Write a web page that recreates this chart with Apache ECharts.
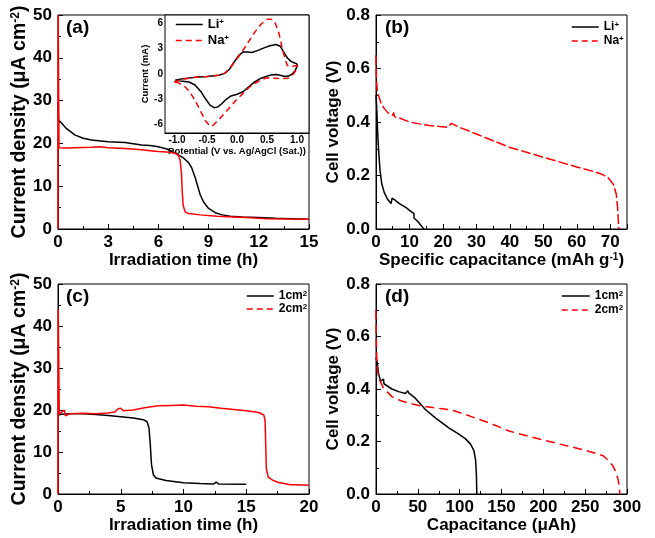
<!DOCTYPE html>
<html>
<head>
<meta charset="utf-8">
<script src="https://cdn.jsdelivr.net/npm/echarts@6/dist/echarts.min.js"></script>
<style>html,body{margin:0;padding:0;background:#fff}#c{width:655px;height:538px}</style>
</head>
<body>
<div id="c"></div>
<script>
// ---- data (a): current density vs irradiation time ----
const aLi = [[0,29.5],[0.03,25.5],[0.5,23.5],[1,22],[1.5,21.2],[2,20.8],[3,20.4],[4,20.2],[4.5,19.9],[5,19.6],[5.5,19.5],[6,19.2],[6.5,18.7],[7,17.8],[7.5,16.6],[7.8,15.5],[8.0,14.2],[8.2,12],[8.35,10],[8.5,8],[8.7,6.3],[9,4.8],[9.4,3.8],[9.8,3.3],[10.3,3.0],[11,2.8],[12,2.7],[13,2.5],[14,2.4],[15,2.3]];
const aNa = [[0,0],[0.01,50],[0.06,19],[0.5,18.9],[1,19],[2,19.1],[2.5,19.2],[3,19],[4,18.8],[5,18.5],[5.5,18.3],[6,18.1],[6.5,18],[7,17.7],[7.2,17.2],[7.3,16],[7.38,13],[7.42,9],[7.48,5.5],[7.6,4],[7.8,3.6],[8.5,3.3],[9.5,3.0],[10.5,2.8],[11.5,2.6],[12.5,2.4],[13.5,2.35],[15,2.3]];
// ---- inset: cyclic voltammetry ----
const cvLi = [[-1.03,-0.75],[-0.9,-0.55],[-0.7,-0.4],[-0.5,-0.3],[-0.3,-0.15],[-0.2,0.1],[-0.12,0.6],[-0.05,1.4],[0.03,2.2],[0.1,2.6],[0.18,2.6],[0.25,2.55],[0.35,2.8],[0.45,3.1],[0.55,3.35],[0.65,3.5],[0.72,3.3],[0.78,2.6],[0.84,1.9],[0.9,1.5],[0.96,1.3],[1.0,1.2],[1.0,0.9],[0.97,0.4],[0.92,0.0],[0.86,-0.25],[0.8,-0.3],[0.72,-0.15],[0.65,-0.05],[0.58,-0.1],[0.5,-0.25],[0.4,-0.5],[0.3,-0.9],[0.2,-1.5],[0.1,-2.1],[0.0,-2.4],[-0.1,-2.6],[-0.18,-3.0],[-0.25,-3.5],[-0.32,-3.9],[-0.38,-4.0],[-0.45,-3.7],[-0.52,-3.0],[-0.6,-2.1],[-0.7,-1.3],[-0.8,-0.95],[-0.9,-0.85],[-1.03,-0.75]];
const cvNa = [[-1.05,-0.95],[-0.9,-0.6],[-0.7,-0.4],[-0.5,-0.3],[-0.3,-0.15],[-0.2,0.1],[-0.1,0.9],[0.0,1.8],[0.1,2.8],[0.2,3.9],[0.3,5.0],[0.4,5.9],[0.5,6.5],[0.58,6.5],[0.64,6.0],[0.7,4.8],[0.75,3.2],[0.8,1.8],[0.84,1.0],[0.9,0.9],[1.0,1.0],[1.0,0.6],[0.95,0.1],[0.9,-0.3],[0.85,-0.5],[0.75,-0.55],[0.6,-0.5],[0.5,-0.45],[0.4,-0.7],[0.3,-1.1],[0.2,-1.6],[0.1,-2.3],[0.0,-3.0],[-0.1,-3.8],[-0.2,-4.6],[-0.3,-5.4],[-0.4,-6.1],[-0.45,-6.2],[-0.52,-5.6],[-0.6,-4.5],[-0.7,-3.1],[-0.8,-2.0],[-0.9,-1.3],[-1.0,-1.0],[-1.05,-0.95]];
// ---- data (b): cell voltage vs specific capacitance ----
const bLi = [[0,0.5],[0.2,0.46],[0.5,0.36],[0.8,0.29],[1.2,0.22],[1.7,0.17],[2.5,0.135],[3.5,0.11],[4.5,0.095],[4.8,0.115],[5.5,0.11],[7,0.095],[9,0.08],[10.5,0.065],[11.3,0.058],[11.4,0.04],[12.5,0.028],[14.3,0]];
const bNa = [[0,0.65],[0.15,0.56],[0.4,0.51],[1,0.49],[1.5,0.47],[2.5,0.45],[3.5,0.435],[5,0.425],[5.3,0.435],[5.5,0.42],[7,0.415],[10,0.40],[13,0.393],[16,0.387],[19,0.383],[21.5,0.38],[22,0.376],[22.5,0.395],[23,0.392],[25,0.38],[30,0.355],[35,0.33],[40,0.305],[45,0.287],[50,0.268],[55,0.25],[60,0.232],[65,0.215],[67.5,0.205],[69.5,0.19],[71,0.165],[71.8,0.13],[72.2,0.08],[72.4,0.03],[72.5,0]];
// ---- data (c): current density vs time, electrode area ----
const c1 = [[0,18.8],[0.3,19],[1,19.1],[2,19.1],[3,18.9],[4,18.7],[5,18.4],[6,18.1],[6.8,17.7],[7.1,17.2],[7.25,15.7],[7.35,12],[7.45,7],[7.6,4.6],[7.8,3.8],[8.6,3.2],[10,2.7],[11.3,2.5],[12.4,2.4],[12.6,2.8],[12.8,2.4],[15,2.3]];
const c2 = [[0,0],[0.02,44],[0.1,19],[0.3,19.5],[0.5,20],[0.6,18.6],[0.9,19.1],[2,19.2],[3,19.1],[4,19.3],[4.5,19.5],[4.8,20.3],[5.0,20.4],[5.2,19.8],[6,20],[7,20.6],[8,21],[9,21.1],[10,21.2],[11,20.9],[12,20.8],[13,20.4],[14,20.1],[15,19.8],[16,19.4],[16.4,18.8],[16.5,17.5],[16.55,12],[16.6,6],[16.75,4],[17.1,3.3],[17.5,2.8],[18,2.5],[18.5,2.2],[19,2.2],[20,2.1]];
// ---- data (d): cell voltage vs capacitance ----
const d1 = [[0,0.52],[1.2,0.505],[3.2,0.455],[5.5,0.43],[7,0.425],[9,0.438],[9.5,0.42],[11,0.416],[19,0.40],[27,0.39],[35,0.383],[37,0.378],[38,0.393],[39,0.385],[47,0.365],[59,0.322],[71,0.29],[87,0.252],[99,0.228],[107,0.21],[113,0.19],[117,0.165],[119,0.13],[120,0.075],[120.5,0]];
const d2 = [[0,0.7],[0.5,0.58],[1.2,0.49],[3,0.445],[5,0.43],[9,0.403],[19,0.371],[30,0.355],[39,0.346],[50,0.338],[59,0.333],[70,0.328],[79,0.325],[90,0.32],[95,0.315],[105,0.305],[119,0.289],[140,0.265],[159,0.24],[180,0.222],[198,0.207],[220,0.19],[238,0.176],[255,0.162],[266,0.152],[272,0.145],[278,0.127],[283,0.108],[286,0.088],[289,0.06],[290.5,0.035],[291.5,0]];
// ---- tick labels ----
const cvTicksX = [-1, -0.5, 0, 0.5, 1];
const cvTicksY = [-6, -3, 0, 3, 6];
const panelLabels = ['(a)', '(b)', '(c)', '(d)'];

const FF = '"Liberation Sans", Arial, sans-serif';
const BLACK = '#000000', RED = '#ff0000';

function axis(idx, min, max, interval, name, nameGap, isY, fmt, nameSize) {
  const ns = nameSize || 17;
  return {
    type: 'value', gridIndex: idx, min: min, max: max, interval: interval,
    name: name, nameLocation: 'middle', nameGap: nameGap,
    nameTextStyle: {fontSize: ns, fontWeight: 'bold', color: BLACK, fontFamily: FF,
      rich: {sup: {fontSize: Math.round(ns * 0.6), fontWeight: 'bold', fontFamily: FF, color: BLACK, verticalAlign: 'top'}}},
    axisLine: {show: true, onZero: false, lineStyle: {color: BLACK, width: 1}},
    axisTick: {show: true, inside: true, length: 5, lineStyle: {color: BLACK, width: 1}},
    minorTick: {show: true, splitNumber: 2, length: 3, lineStyle: {color: BLACK, width: 1}},
    splitLine: {show: false}, minorSplitLine: {show: false},
    axisLabel: {fontSize: 17, fontWeight: 'bold', color: BLACK, fontFamily: FF, margin: isY ? 6 : 5,
      showMaxLabel: true, formatter: fmt || null}
  };
}
const f1 = v => v.toFixed(1);

const xB = axis(2, 0, 75, 10, 'Specific capacitance (mAh g{sup|-1})', 20, false);
xB.axisLabel.showMaxLabel = false;

function insetAxis(isY) {
  return {
    type: 'value', gridIndex: 1,
    min: isY ? -7 : -1.2, max: isY ? 7 : 1.2,
    name: isY ? 'Current (mA)' : 'Potential (V vs. Ag/AgCl (Sat.))',
    nameLocation: 'middle', nameGap: isY ? 10 : 8,
    nameTextStyle: {fontSize: 9.5, fontWeight: 'bold', color: BLACK, fontFamily: FF},
    axisLine: {show: true, onZero: false, lineStyle: {color: BLACK, width: 1}},
    axisTick: {show: true, inside: true, length: 3, customValues: isY ? cvTicksY : cvTicksX, lineStyle: {color: BLACK}},
    splitLine: {show: false},
    axisLabel: {fontSize: 10, fontWeight: 'bold', color: BLACK, fontFamily: FF, margin: 2,
      customValues: isY ? cvTicksY : cvTicksX,
      formatter: isY ? (v => String(v)) : f1}
  };
}

function legend(left, top, width, gap, fs, names, dashedSecond) {
  return {
    orient: 'vertical', left: left, top: top, padding: 0,
    itemWidth: width, itemHeight: 14, itemGap: gap,
    itemStyle: {opacity: 0},
    data: [
      {name: names[0], itemStyle: {opacity: 0}, lineStyle: {type: 'solid', color: BLACK, width: 1.5}},
      {name: names[1], itemStyle: {opacity: 0}, lineStyle: {type: dashedSecond, color: RED, width: 1.5}}
    ],
    textStyle: {fontSize: fs, fontWeight: 'bold', color: BLACK, fontFamily: FF,
      rich: {sup: {fontSize: Math.round(fs * 0.65), fontWeight: 'bold', color: BLACK, fontFamily: FF, verticalAlign: 'top'}}},
    formatter: n => n.replace('+', '{sup|+}').replace('cm2', 'cm{sup|2}')
  };
}

function line(name, xi, data, color, type) {
  return {
    type: 'line', name: name, xAxisIndex: xi, yAxisIndex: xi, data: data,
    showSymbol: false, symbol: 'none', smooth: false,
    lineStyle: {color: color, width: 1.5, type: type || 'solid'},
    itemStyle: {color: color}, z: 3, animation: false
  };
}

const option = {
  animation: false,
  backgroundColor: '#ffffff',
  grid: [
    {left: 58, top: 15, width: 251, height: 214, show: true, borderColor: BLACK, borderWidth: 1, backgroundColor: 'transparent'},
    {left: 165, top: 15, width: 144, height: 118, show: true, borderColor: BLACK, borderWidth: 1, backgroundColor: '#ffffff', z: 1},
    {left: 376, top: 15, width: 251, height: 214, show: true, borderColor: BLACK, borderWidth: 1, backgroundColor: 'transparent'},
    {left: 58, top: 284, width: 251, height: 210, show: true, borderColor: BLACK, borderWidth: 1, backgroundColor: 'transparent'},
    {left: 376, top: 284, width: 251, height: 210, show: true, borderColor: BLACK, borderWidth: 1, backgroundColor: 'transparent'}
  ],
  xAxis: [
    axis(0, 0, 15, 3, 'Irradiation time (h)', 20, false),
    insetAxis(false),
    xB,
    axis(3, 0, 20, 5, 'Irradiation time (h)', 20, false),
    axis(4, 0, 300, 50, 'Capacitance (μAh)', 20, false)
  ],
  yAxis: [
    axis(0, 0, 50, 10, 'Current density (μA cm{sup|-2})', 18, true, null, 19.5),
    insetAxis(true),
    axis(2, 0, 0.8, 0.2, 'Cell voltage (V)', 34, true, f1),
    axis(3, 0, 50, 10, 'Current density (μA cm{sup|-2})', 18, true, null, 19.5),
    axis(4, 0, 0.8, 0.2, 'Cell voltage (V)', 34, true, f1)
  ],
  legend: [
    legend(175, 18, 27, 3, 13, ['Li+', 'Na+'], [6, 4]),
    legend(571, 21, 27, 2, 12, ['Li+', 'Na+'], [6, 4]),
    legend(246, 290, 27, 1, 12, ['1cm2', '2cm2'], [6, 4]),
    legend(561, 290, 28, 2, 12, ['1cm2', '2cm2'], [6, 4])
  ],
  graphic: [
    {type: 'text', left: 66, top: 18, style: {text: panelLabels[0], font: 'bold 19px ' + FF, fill: BLACK}},
    {type: 'text', left: 385, top: 18, style: {text: panelLabels[1], font: 'bold 19px ' + FF, fill: BLACK}},
    {type: 'text', left: 66, top: 287, style: {text: panelLabels[2], font: 'bold 19px ' + FF, fill: BLACK}},
    {type: 'text', left: 385, top: 287, style: {text: panelLabels[3], font: 'bold 19px ' + FF, fill: BLACK}}
  ],
  series: [
    line('Li+', 0, aLi, BLACK),
    line('Na+', 0, aNa, RED),
    line('Li+', 1, cvLi, BLACK),
    line('Na+', 1, cvNa, RED, [6, 4]),
    line('Li+', 2, bLi, BLACK),
    line('Na+', 2, bNa, RED, [10, 3]),
    line('1cm2', 3, c1, BLACK),
    line('2cm2', 3, c2, RED),
    line('1cm2', 4, d1, BLACK),
    line('2cm2', 4, d2, RED, [9, 5])
  ]
};

const chart = echarts.init(document.getElementById('c'), null, {renderer: 'canvas'});
chart.setOption(option);
</script>
</body>
</html>
